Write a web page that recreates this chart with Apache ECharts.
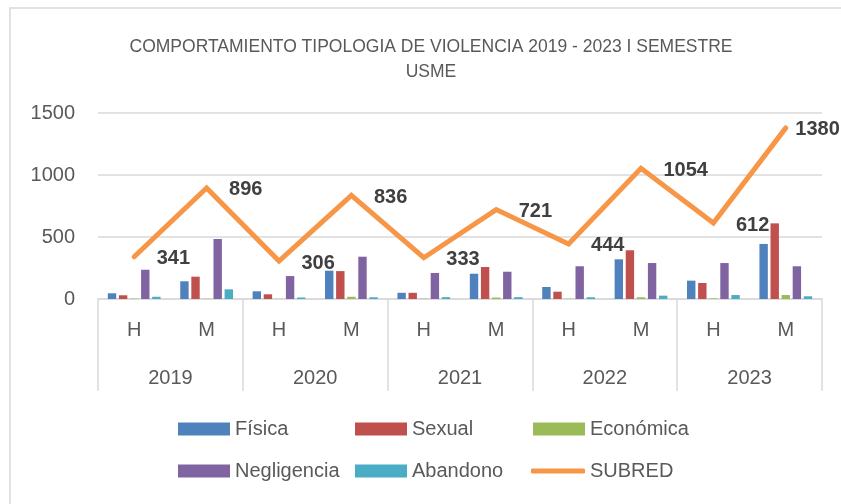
<!DOCTYPE html>
<html>
<head>
<meta charset="utf-8">
<script src="https://cdn.jsdelivr.net/npm/echarts@6/dist/echarts.min.js"></script>
<style>
  html, body { margin: 0; padding: 0; background: #fff; }
  #chart { width: 841px; height: 504px; }
</style>
</head>
<body>
<div id="chart"></div>
<script>
var categorias = ['H', 'M', 'H', 'M', 'H', 'M', 'H', 'M', 'H', 'M'];
var anios = ['2019', '2020', '2021', '2022', '2023'];

var fisica      = [46, 143, 62, 228, 50, 204, 97, 320, 148, 444];
var sexual      = [30, 180, 38, 225, 50, 258, 59, 393, 129, 610];
var economica   = [3, 2, 1, 18, 3, 12, 2, 14, 5, 32];
var negligencia = [236, 484, 185, 341, 210, 220, 264, 290, 290, 264];
var abandono    = [18, 78, 12, 14, 15, 15, 14, 27, 32, 22];
var subred      = [341, 896, 306, 836, 333, 721, 444, 1054, 612, 1380];

var gris = '#595959';
var lineaGris = '#d9d9d9';

var myChart = echarts.init(document.getElementById('chart'));

function barra(nombre, datos, color) {
    return {
        name: nombre,
        type: 'bar',
        xAxisIndex: 0,
        barWidth: 8.4,
        barGap: '32%',
        itemStyle: { color: color },
        data: datos
    };
}

// una leyenda por elemento para alinearlas en columnas
function leyenda(nombre, left, top, extra) {
    var l = {
        data: [nombre],
        left: left,
        top: top,
        itemWidth: 52,
        itemHeight: 13,
        itemGap: 0,
        icon: 'rect',
        textStyle: { color: gris, fontSize: 20, fontFamily: 'Liberation Sans' }
    };
    return Object.assign(l, extra || {});
}

var datosLinea = subred.map(function (v, i) {
    if (i === subred.length - 1) {
        return { value: v, label: { distance: 9 } };
    }
    return v;
});

var option = {
    backgroundColor: '#fff',
    animation: false,
    graphic: [{
        type: 'rect',
        shape: { x: 10, y: 8, width: 1000, height: 1000 },
        style: { fill: 'none', stroke: lineaGris, lineWidth: 1.5 },
        silent: true
    }],
    title: {
        text: 'COMPORTAMIENTO TIPOLOGIA DE VIOLENCIA 2019 - 2023 I SEMESTRE\nUSME',
        left: 426,
        textAlign: 'center',
        top: 30,
        textStyle: {
            color: gris,
            fontSize: 17.5,
            fontWeight: 'normal',
            fontFamily: 'Liberation Sans',
            lineHeight: 25
        }
    },
    legend: [
        leyenda('Física', 173, 414),
        leyenda('Sexual', 350, 414),
        leyenda('Económica', 528, 414),
        leyenda('Negligencia', 173, 456),
        leyenda('Abandono', 350, 456),
        leyenda('SUBRED', 526, 456, { icon: 'roundRect', itemWidth: 54, itemHeight: 5 })
    ],
    grid: { left: 98, right: 19, top: 113, bottom: 205 },
    xAxis: [{
        type: 'category',
        data: categorias,
        position: 'bottom',
        axisLine: { show: true, lineStyle: { color: lineaGris, width: 1.5 } },
        axisTick: { show: false },
        axisLabel: { color: gris, fontSize: 20, fontFamily: 'Liberation Sans', margin: 21 }
    }, {
        type: 'category',
        data: anios,
        position: 'bottom',
        axisLine: { show: false },
        axisTick: { show: true, length: 92, lineStyle: { color: lineaGris, width: 1.5 } },
        axisLabel: { color: gris, fontSize: 20, fontFamily: 'Liberation Sans', margin: 69 }
    }],
    yAxis: {
        type: 'value',
        min: 0,
        max: 1500,
        interval: 500,
        axisLine: { show: false },
        axisTick: { show: false },
        splitLine: { lineStyle: { color: lineaGris, width: 1.5 } },
        axisLabel: {
            color: gris, fontSize: 20, fontFamily: 'Liberation Sans', margin: 23,
            formatter: function (v) { return String(v); }
        }
    },
    series: [
        barra('Física', fisica, '#4f81bd'),
        barra('Sexual', sexual, '#c0504d'),
        barra('Económica', economica, '#9bbb59'),
        barra('Negligencia', negligencia, '#8064a2'),
        barra('Abandono', abandono, '#4bacc6'),
        {
            name: 'SUBRED',
            type: 'line',
            xAxisIndex: 0,
            symbol: 'circle',
            symbolSize: 1,
            showSymbol: true,
            itemStyle: { color: '#f79646' },
            lineStyle: { color: '#f79646', width: 5, cap: 'round', join: 'miter' },
            label: {
                show: true,
                position: 'right',
                distance: 22,
                offset: [0, 2],
                color: '#404040',
                fontSize: 20,
                fontWeight: 'bold',
                fontFamily: 'Liberation Sans'
            },
            z: 5,
            data: datosLinea
        }
    ]
};
myChart.setOption(option);
</script>
</body>
</html>
